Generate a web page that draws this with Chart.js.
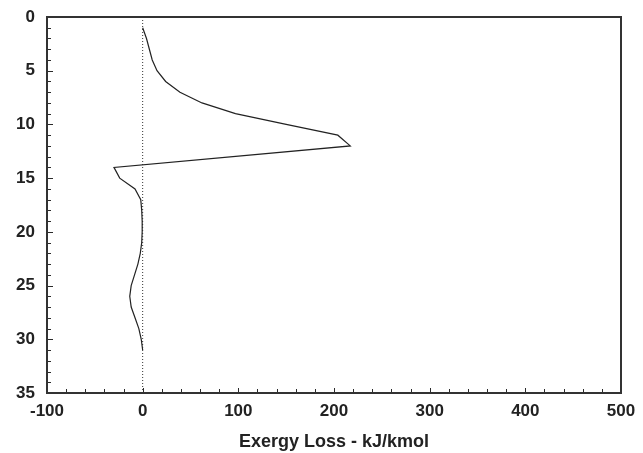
<!DOCTYPE html>
<html>
<head>
<meta charset="utf-8">
<script src="https://cdn.jsdelivr.net/npm/chart.js@4/dist/chart.umd.min.js"></script>
<style>
  html, body { margin: 0; padding: 0; background: #fff; }
  #wrap { width: 643px; height: 453px; }
</style>
</head>
<body>
<div id="wrap"><canvas id="c" width="643" height="453"></canvas></div>
<script>
// Stage numbers (y) and exergy loss values (x, kJ/kmol)
const stages = [1, 2, 3, 4, 5, 6, 7, 8, 9, 10, 11, 12, 14, 15, 16, 17, 18, 19, 20, 21, 22, 23, 24, 25, 26, 27, 28, 29, 30, 31];
const exergyLoss = [0, 4, 7, 10, 15, 24, 39, 62, 97, 150, 204, 217, -30, -24, -8, -2, -1, -0.5, -0.5, -1, -2.5, -5, -8.5, -12, -13.5, -12, -8, -4, -1.5, 0];
const zeroLineY = [0, 35];
const xTicks = [-100, 0, 100, 200, 300, 400, 500];
const yTicks = [0, 5, 10, 15, 20, 25, 30, 35];

const profile = stages.map((s, i) => ({ x: exergyLoss[i], y: s }));
const zeroLine = zeroLineY.map(v => ({ x: 0, y: v }));

const frameAndTicks = {
  id: 'frameAndTicks',
  afterDatasetsDraw(chart) {
    const ctx = chart.ctx;
    const a = chart.chartArea;
    const xs = chart.scales.x, ys = chart.scales.y;
    ctx.save();
    ctx.strokeStyle = '#2a2a2a';
    ctx.lineWidth = 1;
    ctx.beginPath();
    for (let v = -100; v <= 500; v += 20) {
      const px = Math.round(xs.getPixelForValue(v)) + 0.5;
      const len = (v % 100 === 0) ? 5 : 4;
      ctx.moveTo(px, a.bottom);
      ctx.lineTo(px, a.bottom - len);
    }
    for (let v = 0; v <= 35; v += 1) {
      const py = Math.round(ys.getPixelForValue(v)) + 0.5;
      const len = (v % 5 === 0) ? 6 : 4;
      ctx.moveTo(a.left, py);
      ctx.lineTo(a.left + len, py);
    }
    ctx.stroke();
    ctx.lineWidth = 2;
    ctx.strokeStyle = '#333';
    ctx.strokeRect(a.left, a.top, a.right - a.left, a.bottom - a.top);
    ctx.restore();
  }
};

new Chart(document.getElementById('c'), {
  type: 'scatter',
  data: {
    datasets: [
      {
        data: profile,
        showLine: true,
        borderColor: '#222',
        borderWidth: 1.2,
        pointRadius: 0,
        tension: 0,
        fill: false
      },
      {
        data: zeroLine,
        showLine: true,
        borderColor: '#333',
        borderWidth: 1,
        borderDash: [1, 2],
        pointRadius: 0,
        fill: false
      }
    ]
  },
  options: {
    responsive: false,
    animation: false,
    events: [],
    layout: { padding: { top: 17, right: 22, left: 0, bottom: 0 } },
    plugins: { legend: { display: false }, tooltip: { enabled: false } },
    scales: {
      x: {
        type: 'linear',
        min: -100, max: 500,
        afterBuildTicks: s => { s.ticks = xTicks.map(v => ({ value: v })); },
        afterFit: s => { s.height = 60; s.paddingLeft = 0; s.paddingRight = 0; },
        grid: { display: false, drawTicks: false },
        border: { display: true, color: '#333', width: 2 },
        ticks: {
          color: '#222',
          padding: 8,
          maxRotation: 0,
          font: { family: 'Liberation Sans, Arial, sans-serif', size: 17, weight: 'bold' }
        },
        title: {
          display: true,
          text: 'Exergy Loss - kJ/kmol',
          color: '#222',
          padding: { top: 5, bottom: 0 },
          font: { family: 'Liberation Sans, Arial, sans-serif', size: 18, weight: 'bold' }
        }
      },
      y: {
        type: 'linear',
        reverse: true,
        min: 0, max: 35,
        afterBuildTicks: s => { s.ticks = yTicks.map(v => ({ value: v })); },
        afterFit: s => { s.width = 47; s.paddingTop = 0; s.paddingBottom = 0; },
        grid: { display: false, drawTicks: false },
        border: { display: true, color: '#333', width: 2 },
        ticks: {
          color: '#222',
          padding: 12,
          font: { family: 'Liberation Sans, Arial, sans-serif', size: 17, weight: 'bold' }
        }
      }
    }
  },
  plugins: [frameAndTicks]
});
</script>
</body>
</html>
